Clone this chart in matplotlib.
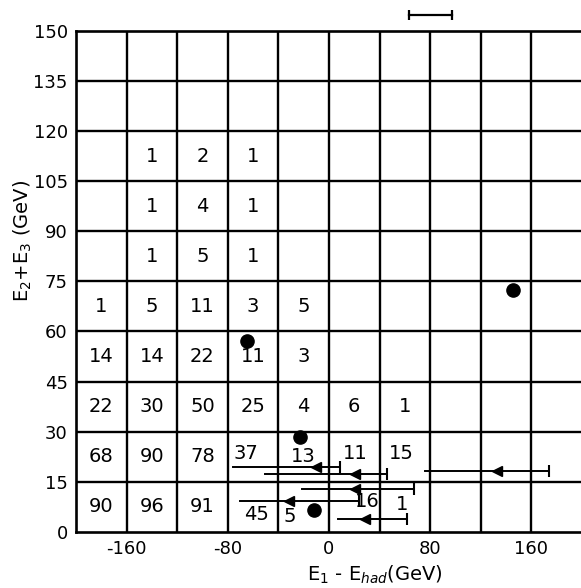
import matplotlib
matplotlib.use("Agg")
import matplotlib.pyplot as plt

# event counts per (E1 - Ehad, E2 + E3) bin; bins are 40 GeV wide and 15 GeV tall
x_centers = [-180, -140, -100, -60, -20, 20, 60, 100, 140, 180]
y_centers = [112.5, 97.5, 82.5, 67.5, 52.5, 37.5, 22.5, 7.5]
counts = [
    [None, 1, 2, 1],
    [None, 1, 4, 1],
    [None, 1, 5, 1],
    [1, 5, 11, 3, 5],
    [14, 14, 22, 11, 3],
    [22, 30, 50, 25, 4, 6, 1],
    [68, 90, 78, 37, 13, 11, 15],
    [90, 96, 91, 45, 5, 16, 1],
]

# single events shown as dots
dot_x = [145.5, -65, -23, -11.5]
dot_y = [72.4, 57.2, 28.5, 6.6]

# events with only an upper bound on E1 - Ehad (arrow points left)
lim_y = [19.5, 17.5, 18.3, 12.9, 9.4, 3.9]
lim_lo = [-76, -50.5, 76, -21.5, -70.5, 7.5]
lim_hi = [9, 45.5, 174, 67, 24, 61.5]
lim_head = [-10, 20.5, 132.5, 20.5, -32, 28.5]

# resolution bar drawn above the frame
res_bar = (63.5, 97.0)

x_ticks = [-160, -80, 0, 80, 160]
y_ticks = list(range(0, 151, 15))

plt.rcParams.update({
    "font.family": "DejaVu Sans",
    "axes.unicode_minus": False,
})

fig = plt.figure(figsize=(5.81, 5.88), dpi=100, facecolor="white")
ax = fig.add_axes([0.1308, 0.0952, 0.8709, 0.8526])
ax.set_xlim(-200, 200)
ax.set_ylim(0, 150)

# grid of bins
for gx in range(-160, 200, 40):
    ax.axvline(gx, color="black", lw=1.7, zorder=1)
for gy in range(15, 150, 15):
    ax.axhline(gy, color="black", lw=1.7, zorder=1)
for s in ax.spines.values():
    s.set_linewidth(1.9)

ax.set_xticks(x_ticks)
ax.set_yticks(y_ticks)
ax.tick_params(length=0, labelsize=13, pad=6)

# small nudges so labels clear the arrows and dots
nudge = {(22.5, -60): (-6, 1), (7.5, -60): (3, -2.4), (7.5, -20): (-11, -3),
         (7.5, 20): (10, 1.6), (7.5, 60): (-2.5, 0.6), (22.5, 20): (0.6, 1),
         (22.5, 60): (-2.5, 1)}
for yc, row in zip(y_centers, counts):
    for xc, n in zip(x_centers, row):
        if n is None:
            continue
        dx, dy = nudge.get((yc, xc), (0, 0))
        ax.text(xc + dx, yc + dy, str(n), ha="center", va="center",
                fontsize=14, zorder=4)

ax.plot(dot_x, dot_y, "o", color="black", markersize=9.5, zorder=5)

for y, lo, hi, head in zip(lim_y, lim_lo, lim_hi, lim_head):
    ax.plot([lo, hi], [y, y], color="black", lw=1.4, zorder=3)
    ax.plot([hi], [y], marker="|", color="black", markersize=8,
            markeredgewidth=1.5, zorder=3)
    ax.plot([head], [y], marker="<", color="black", markersize=6.5, zorder=3)

ax.plot(res_bar, [154.6, 154.6], color="black", lw=1.6, clip_on=False)
for bx in res_bar:
    ax.plot([bx], [154.6], marker="|", color="black", markersize=7,
            markeredgewidth=1.6, clip_on=False)

fig.text(0.04, 0.59, r"E$_2$+E$_3$ (GeV)", rotation=90, ha="center",
         va="center", fontsize=14)
fig.text(0.645, 0.023, r"E$_1$ - E$_{had}$(GeV)", ha="center", va="center",
         fontsize=14)

fig.savefig("out.png", dpi=100, facecolor="white")
